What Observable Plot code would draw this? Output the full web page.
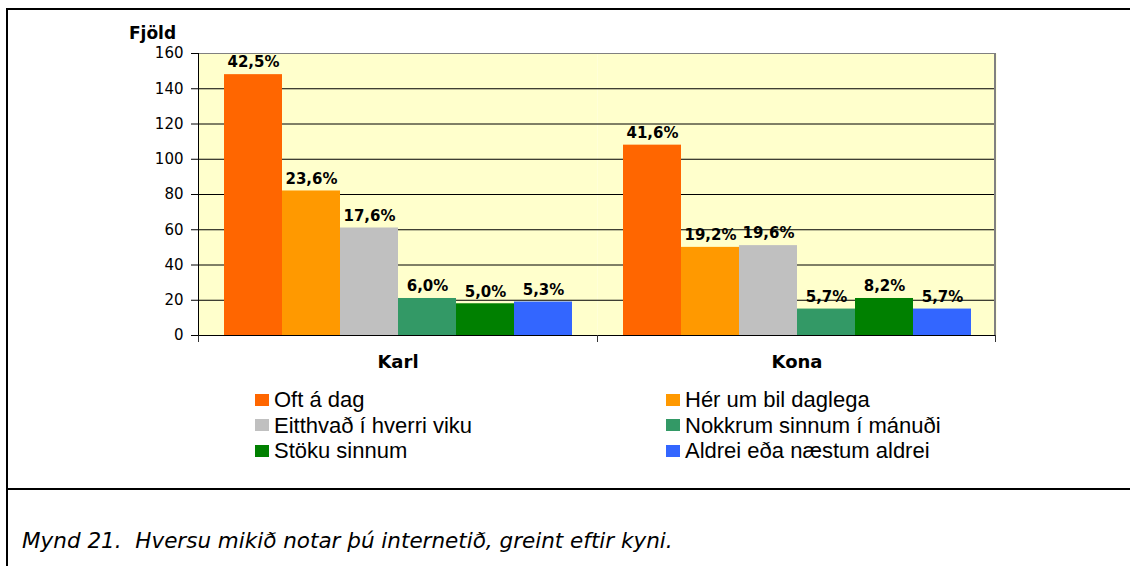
<!DOCTYPE html>
<html><head><meta charset="utf-8">
<script src="https://cdn.jsdelivr.net/npm/d3@7"></script>
<script src="https://cdn.jsdelivr.net/npm/@observablehq/plot@0.6"></script>
<style>
body{margin:0;background:#fff;}
#page{position:relative;width:1130px;height:566px;overflow:hidden;background:#fff;}
#chart{position:absolute;left:0;top:0;}
.line{position:absolute;background:#000;}
#ylabel{position:absolute;left:129px;top:25px;font:bold 17px/17px "DejaVu Sans",sans-serif;color:#000;}
#legend{position:absolute;left:255px;top:387px;display:grid;grid-template-columns:411px 420px;grid-auto-rows:25.5px;font:22px/25px "Liberation Sans",Arial,sans-serif;color:#000;}
#legend .item{display:flex;align-items:center;white-space:nowrap;}
#legend .sw{width:14px;height:12px;margin-right:5px;flex:none;}
#caption{position:absolute;left:22px;top:529px;font:italic 21.5px/24px "DejaVu Sans",Verdana,sans-serif;color:#000;white-space:nowrap;}
</style></head>
<body>
<div id="page">
  <div class="line" style="left:6px;top:8px;width:1124px;height:2px"></div>
  <div class="line" style="left:6px;top:8px;width:2px;height:558px"></div>
  <div class="line" style="left:6px;top:488px;width:1124px;height:2px"></div>
  <div id="chart"></div>
  <div id="ylabel">Fjöld</div>
  <div id="legend"></div>
  <div id="caption">Mynd 21.&nbsp; Hversu mikið notar þú internetið, greint eftir kyni.</div>
</div>
<script>
const categories = ["Karl", "Kona"];
const series = ["Oft á dag", "Hér um bil daglega", "Eitthvað í hverri viku", "Nokkrum sinnum í mánuði", "Stöku sinnum", "Aldrei eða næstum aldrei"];
const colors = ["#FF6600", "#FF9900", "#C0C0C0", "#339966", "#008000", "#3366FF"];
const karlCounts = [148, 82, 61, 21, 18, 19];
const konaCounts = [108, 50, 51, 15, 21, 15];
const karlPct = ["42,5%", "23,6%", "17,6%", "6,0%", "5,0%", "5,3%"];
const konaPct = ["41,6%", "19,2%", "19,6%", "5,7%", "8,2%", "5,7%"];
const yTicks = [0, 20, 40, 60, 80, 100, 120, 140, 160];

const counts = [karlCounts, konaCounts];
const pcts = [karlPct, konaPct];
const rows = [];
categories.forEach((c, i) => series.forEach((s, j) => rows.push({category: c, series: s, count: counts[i][j], pct: pcts[i][j]})));

// plot-area borders and category separator ticks; called once per facet with that facet's dimensions
let decorCalls = 0;
function decor(index, scales, values, dims) {
  const k = decorCalls++;
  const {width, height, marginLeft, marginRight, marginTop, marginBottom} = dims;
  const y0 = height - marginBottom, xL = marginLeft, xR = width - marginRight;
  const g = d3.create("svg:g");
  g.append("line").attr("x1", xL).attr("x2", xR).attr("y1", marginTop + 0.5).attr("y2", marginTop + 0.5).attr("stroke", "#808080");
  g.append("line").attr("x1", xL).attr("x2", xR).attr("y1", y0 + 0.5).attr("y2", y0 + 0.5).attr("stroke", "#000");
  g.append("line").attr("x1", xL + 0.5).attr("x2", xL + 0.5).attr("y1", y0).attr("y2", y0 + 7).attr("stroke", "#333");
  if (k === 0) {
    g.append("line").attr("x1", xL + 0.5).attr("x2", xL + 0.5).attr("y1", marginTop).attr("y2", y0 + 0.5).attr("stroke", "#000");
  }
  if (k === categories.length - 1) {
    g.append("line").attr("x1", xR - 1).attr("x2", xR - 1).attr("y1", marginTop).attr("y2", y0).attr("stroke", "#808080").attr("stroke-width", 2);
    g.append("line").attr("x1", xR - 0.5).attr("x2", xR - 0.5).attr("y1", y0).attr("y2", y0 + 7).attr("stroke", "#333");
  }
  return g.node();
}

const chart = Plot.plot({
  width: 1130, height: 380,
  marginLeft: 197, marginRight: 134, marginTop: 53, marginBottom: 45,
  style: {fontFamily: "'DejaVu Sans', sans-serif", background: "transparent", overflow: "visible", color: "#000"},
  fx: {domain: categories, padding: 0, label: null},
  x: {domain: series, paddingInner: 0, paddingOuter: 0.39, axis: null},
  y: {domain: [0, 160]},
  color: {domain: series, range: colors},
  marks: [
    Plot.frame({fill: "#FFFFCC", stroke: "none"}),
    Plot.ruleY(yTicks.slice(0, -1), {stroke: "#000", strokeWidth: 1}),
    Plot.barY(rows, {fx: "category", x: "series", y: "count", fill: "series"}),
    Plot.text(rows, {fx: "category", x: "series", y: "count", text: "pct", dy: -12, fontWeight: "bold", fontSize: 15, fill: "#000"}),
    Plot.axisY({ticks: yTicks, tickSize: 7, tickPadding: 8, fontSize: 15, label: null, tickFormat: d => String(d)}),
    Plot.axisFx({anchor: "bottom", tickSize: 0, tickPadding: 20, fontSize: 18, fontWeight: "bold", label: null}),
    decor
  ]
});
document.getElementById("chart").appendChild(chart);

const legend = document.getElementById("legend");
series.forEach((s, i) => {
  const item = document.createElement("div");
  item.className = "item";
  const sw = document.createElement("span");
  sw.className = "sw";
  sw.style.background = colors[i];
  item.appendChild(sw);
  item.appendChild(document.createTextNode(s));
  legend.appendChild(item);
});
</script>
</body></html>
